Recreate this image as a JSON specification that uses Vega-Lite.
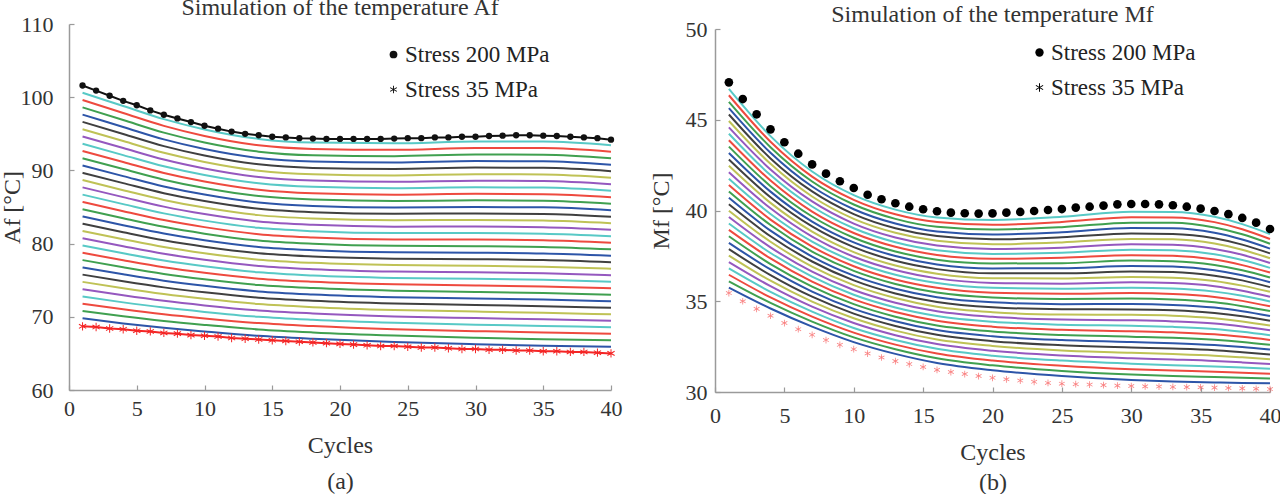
{
"$schema":"https://vega.github.io/schema/vega-lite/v6.json",
"background":"white",
"padding":{"left":0,"top":-4,"right":0,"bottom":0},
"spacing":27,
"resolve":{"scale":{"shape":"independent"},"legend":{"shape":"independent"}},
"datasets":{
"la":[
{"i":0,"x":1,"y":100.6},{"i":0,"x":4,"y":98.8},{"i":0,"x":7,"y":97.0},{"i":0,"x":10,"y":95.6},{"i":0,"x":14,"y":94.3},{"i":0,"x":18,"y":93.8},{"i":0,"x":24,"y":93.7},{"i":0,"x":30,"y":93.95},{"i":0,"x":35,"y":93.95},{"i":0,"x":40,"y":93.45},
{"i":1,"x":1,"y":99.61},{"i":1,"x":4,"y":97.84},{"i":1,"x":7,"y":96.08},{"i":1,"x":10,"y":94.71},{"i":1,"x":14,"y":93.43},{"i":1,"x":18,"y":92.94},{"i":1,"x":24,"y":92.82},{"i":1,"x":30,"y":93.06},{"i":1,"x":35,"y":93.05},{"i":1,"x":40,"y":92.56},
{"i":2,"x":1,"y":98.61},{"i":2,"x":4,"y":96.88},{"i":2,"x":7,"y":95.16},{"i":2,"x":10,"y":93.82},{"i":2,"x":14,"y":92.56},{"i":2,"x":18,"y":92.07},{"i":2,"x":24,"y":91.95},{"i":2,"x":30,"y":92.16},{"i":2,"x":35,"y":92.15},{"i":2,"x":40,"y":91.67},
{"i":3,"x":1,"y":97.62},{"i":3,"x":4,"y":95.93},{"i":3,"x":7,"y":94.24},{"i":3,"x":10,"y":92.93},{"i":3,"x":14,"y":91.7},{"i":3,"x":18,"y":91.21},{"i":3,"x":24,"y":91.07},{"i":3,"x":30,"y":91.27},{"i":3,"x":35,"y":91.25},{"i":3,"x":40,"y":90.78},
{"i":4,"x":1,"y":96.63},{"i":4,"x":4,"y":94.97},{"i":4,"x":7,"y":93.32},{"i":4,"x":10,"y":92.04},{"i":4,"x":14,"y":90.83},{"i":4,"x":18,"y":90.34},{"i":4,"x":24,"y":90.2},{"i":4,"x":30,"y":90.38},{"i":4,"x":35,"y":90.35},{"i":4,"x":40,"y":89.9},
{"i":5,"x":1,"y":95.63},{"i":5,"x":4,"y":94.01},{"i":5,"x":7,"y":92.4},{"i":5,"x":10,"y":91.15},{"i":5,"x":14,"y":89.96},{"i":5,"x":18,"y":89.48},{"i":5,"x":24,"y":89.32},{"i":5,"x":30,"y":89.48},{"i":5,"x":35,"y":89.45},{"i":5,"x":40,"y":89.01},
{"i":6,"x":1,"y":94.64},{"i":6,"x":4,"y":93.05},{"i":6,"x":7,"y":91.48},{"i":6,"x":10,"y":90.26},{"i":6,"x":14,"y":89.09},{"i":6,"x":18,"y":88.61},{"i":6,"x":24,"y":88.45},{"i":6,"x":30,"y":88.59},{"i":6,"x":35,"y":88.55},{"i":6,"x":40,"y":88.12},
{"i":7,"x":1,"y":93.65},{"i":7,"x":4,"y":92.09},{"i":7,"x":7,"y":90.56},{"i":7,"x":10,"y":89.37},{"i":7,"x":14,"y":88.23},{"i":7,"x":18,"y":87.75},{"i":7,"x":24,"y":87.57},{"i":7,"x":30,"y":87.7},{"i":7,"x":35,"y":87.65},{"i":7,"x":40,"y":87.23},
{"i":8,"x":1,"y":92.65},{"i":8,"x":4,"y":91.14},{"i":8,"x":7,"y":89.65},{"i":8,"x":10,"y":88.48},{"i":8,"x":14,"y":87.36},{"i":8,"x":18,"y":86.88},{"i":8,"x":24,"y":86.69},{"i":8,"x":30,"y":86.8},{"i":8,"x":35,"y":86.75},{"i":8,"x":40,"y":86.34},
{"i":9,"x":1,"y":91.66},{"i":9,"x":4,"y":90.18},{"i":9,"x":7,"y":88.73},{"i":9,"x":10,"y":87.59},{"i":9,"x":14,"y":86.49},{"i":9,"x":18,"y":86.02},{"i":9,"x":24,"y":85.82},{"i":9,"x":30,"y":85.91},{"i":9,"x":35,"y":85.85},{"i":9,"x":40,"y":85.45},
{"i":10,"x":1,"y":90.66},{"i":10,"x":4,"y":89.22},{"i":10,"x":7,"y":87.81},{"i":10,"x":10,"y":86.7},{"i":10,"x":14,"y":85.62},{"i":10,"x":18,"y":85.15},{"i":10,"x":24,"y":84.94},{"i":10,"x":30,"y":85.01},{"i":10,"x":35,"y":84.95},{"i":10,"x":40,"y":84.56},
{"i":11,"x":1,"y":89.67},{"i":11,"x":4,"y":88.26},{"i":11,"x":7,"y":86.89},{"i":11,"x":10,"y":85.81},{"i":11,"x":14,"y":84.75},{"i":11,"x":18,"y":84.29},{"i":11,"x":24,"y":84.07},{"i":11,"x":30,"y":84.12},{"i":11,"x":35,"y":84.05},{"i":11,"x":40,"y":83.67},
{"i":12,"x":1,"y":88.68},{"i":12,"x":4,"y":87.3},{"i":12,"x":7,"y":85.97},{"i":12,"x":10,"y":84.92},{"i":12,"x":14,"y":83.89},{"i":12,"x":18,"y":83.43},{"i":12,"x":24,"y":83.19},{"i":12,"x":30,"y":83.23},{"i":12,"x":35,"y":83.15},{"i":12,"x":40,"y":82.79},
{"i":13,"x":1,"y":87.68},{"i":13,"x":4,"y":86.35},{"i":13,"x":7,"y":85.05},{"i":13,"x":10,"y":84.03},{"i":13,"x":14,"y":83.02},{"i":13,"x":18,"y":82.56},{"i":13,"x":24,"y":82.31},{"i":13,"x":30,"y":82.33},{"i":13,"x":35,"y":82.25},{"i":13,"x":40,"y":81.9},
{"i":14,"x":1,"y":86.69},{"i":14,"x":4,"y":85.39},{"i":14,"x":7,"y":84.13},{"i":14,"x":10,"y":83.14},{"i":14,"x":14,"y":82.15},{"i":14,"x":18,"y":81.7},{"i":14,"x":24,"y":81.44},{"i":14,"x":30,"y":81.44},{"i":14,"x":35,"y":81.35},{"i":14,"x":40,"y":81.01},
{"i":15,"x":1,"y":85.7},{"i":15,"x":4,"y":84.43},{"i":15,"x":7,"y":83.21},{"i":15,"x":10,"y":82.25},{"i":15,"x":14,"y":81.28},{"i":15,"x":18,"y":80.83},{"i":15,"x":24,"y":80.56},{"i":15,"x":30,"y":80.55},{"i":15,"x":35,"y":80.45},{"i":15,"x":40,"y":80.12},
{"i":16,"x":1,"y":84.7},{"i":16,"x":4,"y":83.47},{"i":16,"x":7,"y":82.29},{"i":16,"x":10,"y":81.36},{"i":16,"x":14,"y":80.42},{"i":16,"x":18,"y":79.97},{"i":16,"x":24,"y":79.69},{"i":16,"x":30,"y":79.65},{"i":16,"x":35,"y":79.55},{"i":16,"x":40,"y":79.23},
{"i":17,"x":1,"y":83.71},{"i":17,"x":4,"y":82.51},{"i":17,"x":7,"y":81.37},{"i":17,"x":10,"y":80.46},{"i":17,"x":14,"y":79.55},{"i":17,"x":18,"y":79.1},{"i":17,"x":24,"y":78.81},{"i":17,"x":30,"y":78.76},{"i":17,"x":35,"y":78.65},{"i":17,"x":40,"y":78.34},
{"i":18,"x":1,"y":82.72},{"i":18,"x":4,"y":81.55},{"i":18,"x":7,"y":80.45},{"i":18,"x":10,"y":79.57},{"i":18,"x":14,"y":78.68},{"i":18,"x":18,"y":78.24},{"i":18,"x":24,"y":77.94},{"i":18,"x":30,"y":77.87},{"i":18,"x":35,"y":77.75},{"i":18,"x":40,"y":77.45},
{"i":19,"x":1,"y":81.72},{"i":19,"x":4,"y":80.6},{"i":19,"x":7,"y":79.53},{"i":19,"x":10,"y":78.68},{"i":19,"x":14,"y":77.81},{"i":19,"x":18,"y":77.37},{"i":19,"x":24,"y":77.06},{"i":19,"x":30,"y":76.97},{"i":19,"x":35,"y":76.85},{"i":19,"x":40,"y":76.56},
{"i":20,"x":1,"y":80.73},{"i":20,"x":4,"y":79.64},{"i":20,"x":7,"y":78.61},{"i":20,"x":10,"y":77.79},{"i":20,"x":14,"y":76.95},{"i":20,"x":18,"y":76.51},{"i":20,"x":24,"y":76.18},{"i":20,"x":30,"y":76.08},{"i":20,"x":35,"y":75.95},{"i":20,"x":40,"y":75.68},
{"i":21,"x":1,"y":79.74},{"i":21,"x":4,"y":78.68},{"i":21,"x":7,"y":77.69},{"i":21,"x":10,"y":76.9},{"i":21,"x":14,"y":76.08},{"i":21,"x":18,"y":75.64},{"i":21,"x":24,"y":75.31},{"i":21,"x":30,"y":75.19},{"i":21,"x":35,"y":75.05},{"i":21,"x":40,"y":74.79},
{"i":22,"x":1,"y":78.74},{"i":22,"x":4,"y":77.72},{"i":22,"x":7,"y":76.77},{"i":22,"x":10,"y":76.01},{"i":22,"x":14,"y":75.21},{"i":22,"x":18,"y":74.78},{"i":22,"x":24,"y":74.43},{"i":22,"x":30,"y":74.29},{"i":22,"x":35,"y":74.15},{"i":22,"x":40,"y":73.9},
{"i":23,"x":1,"y":77.75},{"i":23,"x":4,"y":76.76},{"i":23,"x":7,"y":75.85},{"i":23,"x":10,"y":75.12},{"i":23,"x":14,"y":74.34},{"i":23,"x":18,"y":73.92},{"i":23,"x":24,"y":73.56},{"i":23,"x":30,"y":73.4},{"i":23,"x":35,"y":73.25},{"i":23,"x":40,"y":73.01},
{"i":24,"x":1,"y":76.75},{"i":24,"x":4,"y":75.81},{"i":24,"x":7,"y":74.94},{"i":24,"x":10,"y":74.23},{"i":24,"x":14,"y":73.47},{"i":24,"x":18,"y":73.05},{"i":24,"x":24,"y":72.68},{"i":24,"x":30,"y":72.51},{"i":24,"x":35,"y":72.35},{"i":24,"x":40,"y":72.12},
{"i":25,"x":1,"y":75.76},{"i":25,"x":4,"y":74.85},{"i":25,"x":7,"y":74.02},{"i":25,"x":10,"y":73.34},{"i":25,"x":14,"y":72.61},{"i":25,"x":18,"y":72.19},{"i":25,"x":24,"y":71.81},{"i":25,"x":30,"y":71.61},{"i":25,"x":35,"y":71.45},{"i":25,"x":40,"y":71.23},
{"i":26,"x":1,"y":74.77},{"i":26,"x":4,"y":73.89},{"i":26,"x":7,"y":73.1},{"i":26,"x":10,"y":72.45},{"i":26,"x":14,"y":71.74},{"i":26,"x":18,"y":71.32},{"i":26,"x":24,"y":70.93},{"i":26,"x":30,"y":70.72},{"i":26,"x":35,"y":70.55},{"i":26,"x":40,"y":70.34},
{"i":27,"x":1,"y":73.77},{"i":27,"x":4,"y":72.93},{"i":27,"x":7,"y":72.18},{"i":27,"x":10,"y":71.56},{"i":27,"x":14,"y":70.87},{"i":27,"x":18,"y":70.46},{"i":27,"x":24,"y":70.05},{"i":27,"x":30,"y":69.82},{"i":27,"x":35,"y":69.65},{"i":27,"x":40,"y":69.46},
{"i":28,"x":1,"y":72.78},{"i":28,"x":4,"y":71.97},{"i":28,"x":7,"y":71.26},{"i":28,"x":10,"y":70.67},{"i":28,"x":14,"y":70.0},{"i":28,"x":18,"y":69.59},{"i":28,"x":24,"y":69.18},{"i":28,"x":30,"y":68.93},{"i":28,"x":35,"y":68.75},{"i":28,"x":40,"y":68.57},
{"i":29,"x":1,"y":71.79},{"i":29,"x":4,"y":71.02},{"i":29,"x":7,"y":70.34},{"i":29,"x":10,"y":69.78},{"i":29,"x":14,"y":69.14},{"i":29,"x":18,"y":68.73},{"i":29,"x":24,"y":68.3},{"i":29,"x":30,"y":68.04},{"i":29,"x":35,"y":67.85},{"i":29,"x":40,"y":67.68},
{"i":30,"x":1,"y":70.79},{"i":30,"x":4,"y":70.06},{"i":30,"x":7,"y":69.42},{"i":30,"x":10,"y":68.89},{"i":30,"x":14,"y":68.27},{"i":30,"x":18,"y":67.86},{"i":30,"x":24,"y":67.43},{"i":30,"x":30,"y":67.14},{"i":30,"x":35,"y":66.95},{"i":30,"x":40,"y":66.79},
{"i":31,"x":1,"y":69.8},{"i":31,"x":4,"y":69.1},{"i":31,"x":7,"y":68.5},{"i":31,"x":10,"y":68.0},{"i":31,"x":14,"y":67.4},{"i":31,"x":18,"y":67.0},{"i":31,"x":24,"y":66.55},{"i":31,"x":30,"y":66.25},{"i":31,"x":35,"y":66.05},{"i":31,"x":40,"y":65.9}
],
"ra":[
{"i":0,"x":1,"y":46.7},{"i":0,"x":4,"y":44.1},{"i":0,"x":7,"y":42.15},{"i":0,"x":10,"y":40.85},{"i":0,"x":13,"y":40.05},{"i":0,"x":16,"y":39.62},{"i":0,"x":20,"y":39.48},{"i":0,"x":25,"y":39.65},{"i":0,"x":30,"y":39.93},{"i":0,"x":33,"y":39.92},{"i":0,"x":36,"y":39.65},{"i":0,"x":38,"y":39.25},{"i":0,"x":40,"y":38.7},
{"i":1,"x":1,"y":46.35},{"i":1,"x":4,"y":43.79},{"i":1,"x":7,"y":41.87},{"i":1,"x":10,"y":40.59},{"i":1,"x":13,"y":39.79},{"i":1,"x":16,"y":39.36},{"i":1,"x":20,"y":39.21},{"i":1,"x":25,"y":39.37},{"i":1,"x":30,"y":39.63},{"i":1,"x":33,"y":39.62},{"i":1,"x":36,"y":39.36},{"i":1,"x":38,"y":38.97},{"i":1,"x":40,"y":38.43},
{"i":2,"x":1,"y":45.99},{"i":2,"x":4,"y":43.49},{"i":2,"x":7,"y":41.6},{"i":2,"x":10,"y":40.33},{"i":2,"x":13,"y":39.54},{"i":2,"x":16,"y":39.1},{"i":2,"x":20,"y":38.95},{"i":2,"x":25,"y":39.08},{"i":2,"x":30,"y":39.33},{"i":2,"x":33,"y":39.32},{"i":2,"x":36,"y":39.06},{"i":2,"x":38,"y":38.69},{"i":2,"x":40,"y":38.17},
{"i":3,"x":1,"y":45.64},{"i":3,"x":4,"y":43.18},{"i":3,"x":7,"y":41.32},{"i":3,"x":10,"y":40.07},{"i":3,"x":13,"y":39.28},{"i":3,"x":16,"y":38.84},{"i":3,"x":20,"y":38.68},{"i":3,"x":25,"y":38.8},{"i":3,"x":30,"y":39.03},{"i":3,"x":33,"y":39.02},{"i":3,"x":36,"y":38.77},{"i":3,"x":38,"y":38.4},{"i":3,"x":40,"y":37.9},
{"i":4,"x":1,"y":45.29},{"i":4,"x":4,"y":42.87},{"i":4,"x":7,"y":41.05},{"i":4,"x":10,"y":39.8},{"i":4,"x":13,"y":39.02},{"i":4,"x":16,"y":38.59},{"i":4,"x":20,"y":38.41},{"i":4,"x":25,"y":38.52},{"i":4,"x":30,"y":38.73},{"i":4,"x":33,"y":38.71},{"i":4,"x":36,"y":38.47},{"i":4,"x":38,"y":38.12},{"i":4,"x":40,"y":37.64},
{"i":5,"x":1,"y":44.93},{"i":5,"x":4,"y":42.57},{"i":5,"x":7,"y":40.77},{"i":5,"x":10,"y":39.54},{"i":5,"x":13,"y":38.77},{"i":5,"x":16,"y":38.33},{"i":5,"x":20,"y":38.14},{"i":5,"x":25,"y":38.24},{"i":5,"x":30,"y":38.43},{"i":5,"x":33,"y":38.41},{"i":5,"x":36,"y":38.18},{"i":5,"x":38,"y":37.84},{"i":5,"x":40,"y":37.37},
{"i":6,"x":1,"y":44.58},{"i":6,"x":4,"y":42.26},{"i":6,"x":7,"y":40.5},{"i":6,"x":10,"y":39.28},{"i":6,"x":13,"y":38.51},{"i":6,"x":16,"y":38.07},{"i":6,"x":20,"y":37.88},{"i":6,"x":25,"y":37.95},{"i":6,"x":30,"y":38.14},{"i":6,"x":33,"y":38.11},{"i":6,"x":36,"y":37.88},{"i":6,"x":38,"y":37.56},{"i":6,"x":40,"y":37.11},
{"i":7,"x":1,"y":44.23},{"i":7,"x":4,"y":41.95},{"i":7,"x":7,"y":40.22},{"i":7,"x":10,"y":39.02},{"i":7,"x":13,"y":38.25},{"i":7,"x":16,"y":37.81},{"i":7,"x":20,"y":37.61},{"i":7,"x":25,"y":37.67},{"i":7,"x":30,"y":37.84},{"i":7,"x":33,"y":37.81},{"i":7,"x":36,"y":37.59},{"i":7,"x":38,"y":37.27},{"i":7,"x":40,"y":36.84},
{"i":8,"x":1,"y":43.87},{"i":8,"x":4,"y":41.65},{"i":8,"x":7,"y":39.94},{"i":8,"x":10,"y":38.76},{"i":8,"x":13,"y":38.0},{"i":8,"x":16,"y":37.55},{"i":8,"x":20,"y":37.34},{"i":8,"x":25,"y":37.39},{"i":8,"x":30,"y":37.54},{"i":8,"x":33,"y":37.51},{"i":8,"x":36,"y":37.3},{"i":8,"x":38,"y":36.99},{"i":8,"x":40,"y":36.58},
{"i":9,"x":1,"y":43.52},{"i":9,"x":4,"y":41.34},{"i":9,"x":7,"y":39.67},{"i":9,"x":10,"y":38.5},{"i":9,"x":13,"y":37.74},{"i":9,"x":16,"y":37.29},{"i":9,"x":20,"y":37.08},{"i":9,"x":25,"y":37.1},{"i":9,"x":30,"y":37.24},{"i":9,"x":33,"y":37.21},{"i":9,"x":36,"y":37.0},{"i":9,"x":38,"y":36.71},{"i":9,"x":40,"y":36.31},
{"i":10,"x":1,"y":43.17},{"i":10,"x":4,"y":41.04},{"i":10,"x":7,"y":39.39},{"i":10,"x":10,"y":38.24},{"i":10,"x":13,"y":37.49},{"i":10,"x":16,"y":37.03},{"i":10,"x":20,"y":36.81},{"i":10,"x":25,"y":36.82},{"i":10,"x":30,"y":36.94},{"i":10,"x":33,"y":36.91},{"i":10,"x":36,"y":36.71},{"i":10,"x":38,"y":36.43},{"i":10,"x":40,"y":36.05},
{"i":11,"x":1,"y":42.81},{"i":11,"x":4,"y":40.73},{"i":11,"x":7,"y":39.12},{"i":11,"x":10,"y":37.98},{"i":11,"x":13,"y":37.23},{"i":11,"x":16,"y":36.77},{"i":11,"x":20,"y":36.54},{"i":11,"x":25,"y":36.54},{"i":11,"x":30,"y":36.64},{"i":11,"x":33,"y":36.61},{"i":11,"x":36,"y":36.41},{"i":11,"x":38,"y":36.15},{"i":11,"x":40,"y":35.78},
{"i":12,"x":1,"y":42.46},{"i":12,"x":4,"y":40.42},{"i":12,"x":7,"y":38.84},{"i":12,"x":10,"y":37.71},{"i":12,"x":13,"y":36.97},{"i":12,"x":16,"y":36.52},{"i":12,"x":20,"y":36.27},{"i":12,"x":25,"y":36.25},{"i":12,"x":30,"y":36.34},{"i":12,"x":33,"y":36.3},{"i":12,"x":36,"y":36.12},{"i":12,"x":38,"y":35.86},{"i":12,"x":40,"y":35.52},
{"i":13,"x":1,"y":42.11},{"i":13,"x":4,"y":40.12},{"i":13,"x":7,"y":38.56},{"i":13,"x":10,"y":37.45},{"i":13,"x":13,"y":36.72},{"i":13,"x":16,"y":36.26},{"i":13,"x":20,"y":36.01},{"i":13,"x":25,"y":35.97},{"i":13,"x":30,"y":36.04},{"i":13,"x":33,"y":36.0},{"i":13,"x":36,"y":35.83},{"i":13,"x":38,"y":35.58},{"i":13,"x":40,"y":35.25},
{"i":14,"x":1,"y":41.75},{"i":14,"x":4,"y":39.81},{"i":14,"x":7,"y":38.29},{"i":14,"x":10,"y":37.19},{"i":14,"x":13,"y":36.46},{"i":14,"x":16,"y":36.0},{"i":14,"x":20,"y":35.74},{"i":14,"x":25,"y":35.69},{"i":14,"x":30,"y":35.74},{"i":14,"x":33,"y":35.7},{"i":14,"x":36,"y":35.53},{"i":14,"x":38,"y":35.3},{"i":14,"x":40,"y":34.99},
{"i":15,"x":1,"y":41.4},{"i":15,"x":4,"y":39.5},{"i":15,"x":7,"y":38.01},{"i":15,"x":10,"y":36.93},{"i":15,"x":13,"y":36.2},{"i":15,"x":16,"y":35.74},{"i":15,"x":20,"y":35.47},{"i":15,"x":25,"y":35.41},{"i":15,"x":30,"y":35.45},{"i":15,"x":33,"y":35.4},{"i":15,"x":36,"y":35.24},{"i":15,"x":38,"y":35.02},{"i":15,"x":40,"y":34.72},
{"i":16,"x":1,"y":41.05},{"i":16,"x":4,"y":39.2},{"i":16,"x":7,"y":37.74},{"i":16,"x":10,"y":36.67},{"i":16,"x":13,"y":35.95},{"i":16,"x":16,"y":35.48},{"i":16,"x":20,"y":35.21},{"i":16,"x":25,"y":35.12},{"i":16,"x":30,"y":35.15},{"i":16,"x":33,"y":35.1},{"i":16,"x":36,"y":34.94},{"i":16,"x":38,"y":34.73},{"i":16,"x":40,"y":34.46},
{"i":17,"x":1,"y":40.7},{"i":17,"x":4,"y":38.89},{"i":17,"x":7,"y":37.46},{"i":17,"x":10,"y":36.41},{"i":17,"x":13,"y":35.69},{"i":17,"x":16,"y":35.22},{"i":17,"x":20,"y":34.94},{"i":17,"x":25,"y":34.84},{"i":17,"x":30,"y":34.85},{"i":17,"x":33,"y":34.8},{"i":17,"x":36,"y":34.65},{"i":17,"x":38,"y":34.45},{"i":17,"x":40,"y":34.19},
{"i":18,"x":1,"y":40.34},{"i":18,"x":4,"y":38.58},{"i":18,"x":7,"y":37.19},{"i":18,"x":10,"y":36.15},{"i":18,"x":13,"y":35.43},{"i":18,"x":16,"y":34.96},{"i":18,"x":20,"y":34.67},{"i":18,"x":25,"y":34.56},{"i":18,"x":30,"y":34.55},{"i":18,"x":33,"y":34.5},{"i":18,"x":36,"y":34.35},{"i":18,"x":38,"y":34.17},{"i":18,"x":40,"y":33.93},
{"i":19,"x":1,"y":39.99},{"i":19,"x":4,"y":38.28},{"i":19,"x":7,"y":36.91},{"i":19,"x":10,"y":35.89},{"i":19,"x":13,"y":35.18},{"i":19,"x":16,"y":34.7},{"i":19,"x":20,"y":34.4},{"i":19,"x":25,"y":34.27},{"i":19,"x":30,"y":34.25},{"i":19,"x":33,"y":34.2},{"i":19,"x":36,"y":34.06},{"i":19,"x":38,"y":33.89},{"i":19,"x":40,"y":33.66},
{"i":20,"x":1,"y":39.64},{"i":20,"x":4,"y":37.97},{"i":20,"x":7,"y":36.63},{"i":20,"x":10,"y":35.62},{"i":20,"x":13,"y":34.92},{"i":20,"x":16,"y":34.45},{"i":20,"x":20,"y":34.14},{"i":20,"x":25,"y":33.99},{"i":20,"x":30,"y":33.95},{"i":20,"x":33,"y":33.89},{"i":20,"x":36,"y":33.77},{"i":20,"x":38,"y":33.61},{"i":20,"x":40,"y":33.4},
{"i":21,"x":1,"y":39.28},{"i":21,"x":4,"y":37.66},{"i":21,"x":7,"y":36.36},{"i":21,"x":10,"y":35.36},{"i":21,"x":13,"y":34.66},{"i":21,"x":16,"y":34.19},{"i":21,"x":20,"y":33.87},{"i":21,"x":25,"y":33.71},{"i":21,"x":30,"y":33.65},{"i":21,"x":33,"y":33.59},{"i":21,"x":36,"y":33.47},{"i":21,"x":38,"y":33.32},{"i":21,"x":40,"y":33.13},
{"i":22,"x":1,"y":38.93},{"i":22,"x":4,"y":37.36},{"i":22,"x":7,"y":36.08},{"i":22,"x":10,"y":35.1},{"i":22,"x":13,"y":34.41},{"i":22,"x":16,"y":33.93},{"i":22,"x":20,"y":33.6},{"i":22,"x":25,"y":33.43},{"i":22,"x":30,"y":33.35},{"i":22,"x":33,"y":33.29},{"i":22,"x":36,"y":33.18},{"i":22,"x":38,"y":33.04},{"i":22,"x":40,"y":32.87},
{"i":23,"x":1,"y":38.58},{"i":23,"x":4,"y":37.05},{"i":23,"x":7,"y":35.81},{"i":23,"x":10,"y":34.84},{"i":23,"x":13,"y":34.15},{"i":23,"x":16,"y":33.67},{"i":23,"x":20,"y":33.34},{"i":23,"x":25,"y":33.14},{"i":23,"x":30,"y":33.05},{"i":23,"x":33,"y":32.99},{"i":23,"x":36,"y":32.88},{"i":23,"x":38,"y":32.76},{"i":23,"x":40,"y":32.6},
{"i":24,"x":1,"y":38.22},{"i":24,"x":4,"y":36.75},{"i":24,"x":7,"y":35.53},{"i":24,"x":10,"y":34.58},{"i":24,"x":13,"y":33.9},{"i":24,"x":16,"y":33.41},{"i":24,"x":20,"y":33.07},{"i":24,"x":25,"y":32.86},{"i":24,"x":30,"y":32.75},{"i":24,"x":33,"y":32.69},{"i":24,"x":36,"y":32.59},{"i":24,"x":38,"y":32.48},{"i":24,"x":40,"y":32.34},
{"i":25,"x":1,"y":37.87},{"i":25,"x":4,"y":36.44},{"i":25,"x":7,"y":35.25},{"i":25,"x":10,"y":34.32},{"i":25,"x":13,"y":33.64},{"i":25,"x":16,"y":33.15},{"i":25,"x":20,"y":32.8},{"i":25,"x":25,"y":32.58},{"i":25,"x":30,"y":32.45},{"i":25,"x":33,"y":32.39},{"i":25,"x":36,"y":32.3},{"i":25,"x":38,"y":32.19},{"i":25,"x":40,"y":32.07},
{"i":26,"x":1,"y":37.52},{"i":26,"x":4,"y":36.13},{"i":26,"x":7,"y":34.98},{"i":26,"x":10,"y":34.06},{"i":26,"x":13,"y":33.38},{"i":26,"x":16,"y":32.89},{"i":26,"x":20,"y":32.54},{"i":26,"x":25,"y":32.29},{"i":26,"x":30,"y":32.16},{"i":26,"x":33,"y":32.09},{"i":26,"x":36,"y":32.0},{"i":26,"x":38,"y":31.91},{"i":26,"x":40,"y":31.81},
{"i":27,"x":1,"y":37.16},{"i":27,"x":4,"y":35.83},{"i":27,"x":7,"y":34.7},{"i":27,"x":10,"y":33.8},{"i":27,"x":13,"y":33.13},{"i":27,"x":16,"y":32.64},{"i":27,"x":20,"y":32.27},{"i":27,"x":25,"y":32.01},{"i":27,"x":30,"y":31.86},{"i":27,"x":33,"y":31.79},{"i":27,"x":36,"y":31.71},{"i":27,"x":38,"y":31.63},{"i":27,"x":40,"y":31.54},
{"i":28,"x":1,"y":36.81},{"i":28,"x":4,"y":35.52},{"i":28,"x":7,"y":34.43},{"i":28,"x":10,"y":33.53},{"i":28,"x":13,"y":32.87},{"i":28,"x":16,"y":32.38},{"i":28,"x":20,"y":32.0},{"i":28,"x":25,"y":31.73},{"i":28,"x":30,"y":31.56},{"i":28,"x":33,"y":31.48},{"i":28,"x":36,"y":31.41},{"i":28,"x":38,"y":31.35},{"i":28,"x":40,"y":31.28},
{"i":29,"x":1,"y":36.46},{"i":29,"x":4,"y":35.21},{"i":29,"x":7,"y":34.15},{"i":29,"x":10,"y":33.27},{"i":29,"x":13,"y":32.61},{"i":29,"x":16,"y":32.12},{"i":29,"x":20,"y":31.73},{"i":29,"x":25,"y":31.45},{"i":29,"x":30,"y":31.26},{"i":29,"x":33,"y":31.18},{"i":29,"x":36,"y":31.12},{"i":29,"x":38,"y":31.06},{"i":29,"x":40,"y":31.01},
{"i":30,"x":1,"y":36.1},{"i":30,"x":4,"y":34.91},{"i":30,"x":7,"y":33.88},{"i":30,"x":10,"y":33.01},{"i":30,"x":13,"y":32.36},{"i":30,"x":16,"y":31.86},{"i":30,"x":20,"y":31.47},{"i":30,"x":25,"y":31.16},{"i":30,"x":30,"y":30.96},{"i":30,"x":33,"y":30.88},{"i":30,"x":36,"y":30.82},{"i":30,"x":38,"y":30.78},{"i":30,"x":40,"y":30.75},
{"i":31,"x":1,"y":35.75},{"i":31,"x":4,"y":34.6},{"i":31,"x":7,"y":33.6},{"i":31,"x":10,"y":32.75},{"i":31,"x":13,"y":32.1},{"i":31,"x":16,"y":31.6},{"i":31,"x":20,"y":31.2},{"i":31,"x":25,"y":30.88},{"i":31,"x":30,"y":30.66},{"i":31,"x":33,"y":30.58},{"i":31,"x":36,"y":30.53},{"i":31,"x":38,"y":30.5},{"i":31,"x":40,"y":30.48}
],
"lm":[
{"s":"Stress 200 MPa","x":1,"y":101.6},{"s":"Stress 200 MPa","x":2,"y":100.9},{"s":"Stress 200 MPa","x":3,"y":100.2},{"s":"Stress 200 MPa","x":4,"y":99.5},{"s":"Stress 200 MPa","x":5,"y":98.9},{"s":"Stress 200 MPa","x":6,"y":98.2},{"s":"Stress 200 MPa","x":7,"y":97.6},{"s":"Stress 200 MPa","x":8,"y":97.1},{"s":"Stress 200 MPa","x":9,"y":96.6},{"s":"Stress 200 MPa","x":10,"y":96.1},
{"s":"Stress 200 MPa","x":11,"y":95.7},{"s":"Stress 200 MPa","x":12,"y":95.3},{"s":"Stress 200 MPa","x":13,"y":95.0},{"s":"Stress 200 MPa","x":14,"y":94.8},{"s":"Stress 200 MPa","x":15,"y":94.6},{"s":"Stress 200 MPa","x":16,"y":94.5},{"s":"Stress 200 MPa","x":17,"y":94.4},{"s":"Stress 200 MPa","x":18,"y":94.35},{"s":"Stress 200 MPa","x":19,"y":94.3},{"s":"Stress 200 MPa","x":20,"y":94.3},
{"s":"Stress 200 MPa","x":21,"y":94.3},{"s":"Stress 200 MPa","x":22,"y":94.3},{"s":"Stress 200 MPa","x":23,"y":94.3},{"s":"Stress 200 MPa","x":24,"y":94.35},{"s":"Stress 200 MPa","x":25,"y":94.4},{"s":"Stress 200 MPa","x":26,"y":94.4},{"s":"Stress 200 MPa","x":27,"y":94.5},{"s":"Stress 200 MPa","x":28,"y":94.5},{"s":"Stress 200 MPa","x":29,"y":94.6},{"s":"Stress 200 MPa","x":30,"y":94.6},
{"s":"Stress 200 MPa","x":31,"y":94.7},{"s":"Stress 200 MPa","x":32,"y":94.75},{"s":"Stress 200 MPa","x":33,"y":94.8},{"s":"Stress 200 MPa","x":34,"y":94.8},{"s":"Stress 200 MPa","x":35,"y":94.75},{"s":"Stress 200 MPa","x":36,"y":94.7},{"s":"Stress 200 MPa","x":37,"y":94.6},{"s":"Stress 200 MPa","x":38,"y":94.5},{"s":"Stress 200 MPa","x":39,"y":94.4},{"s":"Stress 200 MPa","x":40,"y":94.2},
{"s":"Stress 35 MPa","x":1,"y":68.7},{"s":"Stress 35 MPa","x":2,"y":68.6},{"s":"Stress 35 MPa","x":3,"y":68.4},{"s":"Stress 35 MPa","x":4,"y":68.3},{"s":"Stress 35 MPa","x":5,"y":68.1},{"s":"Stress 35 MPa","x":6,"y":68.0},{"s":"Stress 35 MPa","x":7,"y":67.8},{"s":"Stress 35 MPa","x":8,"y":67.7},{"s":"Stress 35 MPa","x":9,"y":67.5},{"s":"Stress 35 MPa","x":10,"y":67.4},
{"s":"Stress 35 MPa","x":11,"y":67.3},{"s":"Stress 35 MPa","x":12,"y":67.1},{"s":"Stress 35 MPa","x":13,"y":67.0},{"s":"Stress 35 MPa","x":14,"y":66.9},{"s":"Stress 35 MPa","x":15,"y":66.8},{"s":"Stress 35 MPa","x":16,"y":66.7},{"s":"Stress 35 MPa","x":17,"y":66.6},{"s":"Stress 35 MPa","x":18,"y":66.5},{"s":"Stress 35 MPa","x":19,"y":66.4},{"s":"Stress 35 MPa","x":20,"y":66.3},
{"s":"Stress 35 MPa","x":21,"y":66.2},{"s":"Stress 35 MPa","x":22,"y":66.1},{"s":"Stress 35 MPa","x":23,"y":66.0},{"s":"Stress 35 MPa","x":24,"y":66.0},{"s":"Stress 35 MPa","x":25,"y":65.9},{"s":"Stress 35 MPa","x":26,"y":65.8},{"s":"Stress 35 MPa","x":27,"y":65.8},{"s":"Stress 35 MPa","x":28,"y":65.7},{"s":"Stress 35 MPa","x":29,"y":65.6},{"s":"Stress 35 MPa","x":30,"y":65.6},
{"s":"Stress 35 MPa","x":31,"y":65.5},{"s":"Stress 35 MPa","x":32,"y":65.5},{"s":"Stress 35 MPa","x":33,"y":65.4},{"s":"Stress 35 MPa","x":34,"y":65.4},{"s":"Stress 35 MPa","x":35,"y":65.3},{"s":"Stress 35 MPa","x":36,"y":65.3},{"s":"Stress 35 MPa","x":37,"y":65.2},{"s":"Stress 35 MPa","x":38,"y":65.2},{"s":"Stress 35 MPa","x":39,"y":65.1},{"s":"Stress 35 MPa","x":40,"y":65.0}
],
"rm":[
{"s":"Stress 200 MPa","x":1,"y":47.06},{"s":"Stress 200 MPa","x":2,"y":46.14},{"s":"Stress 200 MPa","x":3,"y":45.3},{"s":"Stress 200 MPa","x":4,"y":44.47},{"s":"Stress 200 MPa","x":5,"y":43.76},{"s":"Stress 200 MPa","x":6,"y":43.13},{"s":"Stress 200 MPa","x":7,"y":42.54},{"s":"Stress 200 MPa","x":8,"y":42.03},{"s":"Stress 200 MPa","x":9,"y":41.61},{"s":"Stress 200 MPa","x":10,"y":41.24},
{"s":"Stress 200 MPa","x":11,"y":40.87},{"s":"Stress 200 MPa","x":12,"y":40.62},{"s":"Stress 200 MPa","x":13,"y":40.4},{"s":"Stress 200 MPa","x":14,"y":40.21},{"s":"Stress 200 MPa","x":15,"y":40.07},{"s":"Stress 200 MPa","x":16,"y":39.96},{"s":"Stress 200 MPa","x":17,"y":39.88},{"s":"Stress 200 MPa","x":18,"y":39.85},{"s":"Stress 200 MPa","x":19,"y":39.83},{"s":"Stress 200 MPa","x":20,"y":39.84},
{"s":"Stress 200 MPa","x":21,"y":39.88},{"s":"Stress 200 MPa","x":22,"y":39.92},{"s":"Stress 200 MPa","x":23,"y":39.97},{"s":"Stress 200 MPa","x":24,"y":40.03},{"s":"Stress 200 MPa","x":25,"y":40.08},{"s":"Stress 200 MPa","x":26,"y":40.16},{"s":"Stress 200 MPa","x":27,"y":40.21},{"s":"Stress 200 MPa","x":28,"y":40.27},{"s":"Stress 200 MPa","x":29,"y":40.34},{"s":"Stress 200 MPa","x":30,"y":40.36},
{"s":"Stress 200 MPa","x":31,"y":40.36},{"s":"Stress 200 MPa","x":32,"y":40.34},{"s":"Stress 200 MPa","x":33,"y":40.29},{"s":"Stress 200 MPa","x":34,"y":40.21},{"s":"Stress 200 MPa","x":35,"y":40.1},{"s":"Stress 200 MPa","x":36,"y":39.97},{"s":"Stress 200 MPa","x":37,"y":39.8},{"s":"Stress 200 MPa","x":38,"y":39.59},{"s":"Stress 200 MPa","x":39,"y":39.33},{"s":"Stress 200 MPa","x":40,"y":38.98},
{"s":"Stress 35 MPa","x":1,"y":35.45},{"s":"Stress 35 MPa","x":2,"y":35.0},{"s":"Stress 35 MPa","x":3,"y":34.58},{"s":"Stress 35 MPa","x":4,"y":34.2},{"s":"Stress 35 MPa","x":5,"y":33.8},{"s":"Stress 35 MPa","x":6,"y":33.46},{"s":"Stress 35 MPa","x":7,"y":33.15},{"s":"Stress 35 MPa","x":8,"y":32.86},{"s":"Stress 35 MPa","x":9,"y":32.6},{"s":"Stress 35 MPa","x":10,"y":32.36},
{"s":"Stress 35 MPa","x":11,"y":32.12},{"s":"Stress 35 MPa","x":12,"y":31.9},{"s":"Stress 35 MPa","x":13,"y":31.7},{"s":"Stress 35 MPa","x":14,"y":31.54},{"s":"Stress 35 MPa","x":15,"y":31.38},{"s":"Stress 35 MPa","x":16,"y":31.22},{"s":"Stress 35 MPa","x":17,"y":31.1},{"s":"Stress 35 MPa","x":18,"y":30.99},{"s":"Stress 35 MPa","x":19,"y":30.88},{"s":"Stress 35 MPa","x":20,"y":30.78},
{"s":"Stress 35 MPa","x":21,"y":30.7},{"s":"Stress 35 MPa","x":22,"y":30.63},{"s":"Stress 35 MPa","x":23,"y":30.56},{"s":"Stress 35 MPa","x":24,"y":30.5},{"s":"Stress 35 MPa","x":25,"y":30.46},{"s":"Stress 35 MPa","x":26,"y":30.43},{"s":"Stress 35 MPa","x":27,"y":30.41},{"s":"Stress 35 MPa","x":28,"y":30.38},{"s":"Stress 35 MPa","x":29,"y":30.35},{"s":"Stress 35 MPa","x":30,"y":30.33},
{"s":"Stress 35 MPa","x":31,"y":30.31},{"s":"Stress 35 MPa","x":32,"y":30.3},{"s":"Stress 35 MPa","x":33,"y":30.28},{"s":"Stress 35 MPa","x":34,"y":30.27},{"s":"Stress 35 MPa","x":35,"y":30.26},{"s":"Stress 35 MPa","x":36,"y":30.24},{"s":"Stress 35 MPa","x":37,"y":30.22},{"s":"Stress 35 MPa","x":38,"y":30.2},{"s":"Stress 35 MPa","x":39,"y":30.18},{"s":"Stress 35 MPa","x":40,"y":30.16}
]
},
"hconcat":[
{
"width":542,"height":366,
"title":{"text":"Simulation of the temperature Af","frame":"group","baseline":"alphabetic","offset":-26},
"encoding":{
"x":{"field":"x","type":"quantitative","scale":{"domain":[0,40],"nice":false,"zero":false},"axis":{"values":[0,5,10,15,20,25,30,35,40],"labelPadding":13,"title":["Cycles","(a)"],"titlePadding":14,"titleLineHeight":36}},
"y":{"field":"y","type":"quantitative","scale":{"domain":[60,110],"nice":false,"zero":false},"axis":{"values":[60,70,80,90,100,110],"labelPadding":21,"title":"Af [°C]","titlePadding":-4}}
},
"layer":[
{"data":{"name":"la"},"mark":{"type":"line","strokeWidth":2,"interpolate":"monotone"},
 "encoding":{"color":{"field":"i","type":"ordinal","legend":null,"scale":{"domain":[0,1,2,3,4,5,6,7,8,9,10,11,12,13,14,15,16,17,18,19,20,21,22,23,24,25,26,27,28,29,30,31],"range":["#58C9C6","#EE4A3F","#40A050","#2D55A8","#404040","#BFC256","#9558BF","#58C9C6","#EE4A3F","#40A050","#2D55A8","#404040","#BFC256","#9558BF","#58C9C6","#EE4A3F","#40A050","#2D55A8","#404040","#BFC256","#9558BF","#58C9C6","#EE4A3F","#40A050","#2D55A8","#404040","#BFC256","#9558BF","#58C9C6","#EE4A3F","#40A050","#2D55A8"]}}}},
{"data":{"name":"lm"},"transform":[{"filter":{"field":"s","equal":"Stress 200 MPa"}}],"mark":{"type":"line","color":"#111111","strokeWidth":2},"encoding":{}},
{"data":{"name":"lm"},"transform":[{"filter":{"field":"s","equal":"Stress 35 MPa"}}],"mark":{"type":"line","color":"#F42525","strokeWidth":2},"encoding":{}},
{"data":{"name":"lm"},"transform":[{"filter":{"field":"s","equal":"Stress 200 MPa"}}],"mark":{"type":"point","filled":true,"opacity":1,"color":"#111111","size":40},
 "encoding":{"shape":{"field":"s","type":"nominal","scale":{"domain":["Stress 200 MPa","Stress 35 MPa"],"range":["circle","M-0.12,-1L0.12,-1L0.12,1L-0.12,1ZM-0.926,-0.396L-0.806,-0.604L0.926,0.396L0.806,0.604ZM0.806,-0.604L0.926,-0.396L-0.806,0.604L-0.926,0.396Z"]},
   "legend":{"orient":"none","legendX":313,"legendY":19,"title":null,"symbolFillColor":"#111111","symbolStrokeColor":"#111111","symbolSize":60,"rowPadding":11,"labelOffset":0,"padding":0,"labelFont":"Liberation Serif","encode":{"labels":{"update":{"font":{"value":"Liberation Serif"}}}}}}}},
{"data":{"name":"lm"},"transform":[{"filter":{"field":"s","equal":"Stress 35 MPa"}}],"mark":{"type":"point","filled":true,"opacity":1,"color":"#F42525","size":70},
 "encoding":{"shape":{"field":"s","type":"nominal","scale":{"domain":["Stress 200 MPa","Stress 35 MPa"],"range":["circle","M-0.12,-1L0.12,-1L0.12,1L-0.12,1ZM-0.926,-0.396L-0.806,-0.604L0.926,0.396L0.806,0.604ZM0.806,-0.604L0.926,-0.396L-0.806,0.604L-0.926,0.396Z"]},
   "legend":{"orient":"none","legendX":313,"legendY":19,"title":null,"symbolFillColor":"#111111","symbolStrokeColor":"#111111","symbolSize":60,"rowPadding":11,"labelOffset":0,"padding":0,"labelFont":"Liberation Serif","encode":{"labels":{"update":{"font":{"value":"Liberation Serif"}}}}}}}}
],
"resolve":{"scale":{"color":"independent"}}
},
{
"width":555,"height":368,
"title":{"text":"Simulation of the temperature Mf","frame":"group","baseline":"alphabetic","offset":-28},
"encoding":{
"x":{"field":"x","type":"quantitative","scale":{"domain":[0,40],"nice":false,"zero":false},"axis":{"values":[0,5,10,15,20,25,30,35,40],"labelPadding":18,"title":["Cycles","(b)"],"titlePadding":14,"titleLineHeight":30}},
"y":{"field":"y","type":"quantitative","scale":{"domain":[30,50],"nice":false,"zero":false,"range":[368,5]},"axis":{"values":[30,35,40,45,50],"labelPadding":13,"title":"Mf [°C]","titlePadding":12}}
},
"layer":[
{"data":{"name":"ra"},"mark":{"type":"line","strokeWidth":2,"interpolate":"monotone"},
 "encoding":{"color":{"field":"i","type":"ordinal","legend":null,"scale":{"domain":[0,1,2,3,4,5,6,7,8,9,10,11,12,13,14,15,16,17,18,19,20,21,22,23,24,25,26,27,28,29,30,31],"range":["#58C9C6","#EE4A3F","#40A050","#2D55A8","#404040","#BFC256","#9558BF","#58C9C6","#EE4A3F","#40A050","#2D55A8","#404040","#BFC256","#9558BF","#58C9C6","#EE4A3F","#40A050","#2D55A8","#404040","#BFC256","#9558BF","#58C9C6","#EE4A3F","#40A050","#2D55A8","#404040","#BFC256","#9558BF","#58C9C6","#EE4A3F","#40A050","#2D55A8"]}}}},
{"data":{"name":"rm"},"transform":[{"filter":{"field":"s","equal":"Stress 200 MPa"}}],"mark":{"type":"point","filled":true,"opacity":1,"color":"#000000","size":75},
 "encoding":{"shape":{"field":"s","type":"nominal","scale":{"domain":["Stress 200 MPa","Stress 35 MPa"],"range":["circle","M-0.12,-1L0.12,-1L0.12,1L-0.12,1ZM-0.926,-0.396L-0.806,-0.604L0.926,0.396L0.806,0.604ZM0.806,-0.604L0.926,-0.396L-0.806,0.604L-0.926,0.396Z"]},
   "legend":{"orient":"none","legendX":313,"legendY":17,"title":null,"symbolFillColor":"#111111","symbolStrokeColor":"#111111","symbolSize":70,"rowPadding":11,"labelOffset":0,"padding":0,"labelFont":"Liberation Serif","encode":{"labels":{"update":{"font":{"value":"Liberation Serif"}}}}}}}},
{"data":{"name":"rm"},"transform":[{"filter":{"field":"s","equal":"Stress 35 MPa"}}],"mark":{"type":"point","filled":true,"opacity":0.85,"color":"#F86A6A","size":45},
 "encoding":{"shape":{"field":"s","type":"nominal","scale":{"domain":["Stress 200 MPa","Stress 35 MPa"],"range":["circle","M-0.12,-1L0.12,-1L0.12,1L-0.12,1ZM-0.926,-0.396L-0.806,-0.604L0.926,0.396L0.806,0.604ZM0.806,-0.604L0.926,-0.396L-0.806,0.604L-0.926,0.396Z"]},
   "legend":{"orient":"none","legendX":313,"legendY":17,"title":null,"symbolFillColor":"#111111","symbolStrokeColor":"#111111","symbolSize":70,"rowPadding":11,"labelOffset":0,"padding":0,"labelFont":"Liberation Serif","encode":{"labels":{"update":{"font":{"value":"Liberation Serif"}}}}}}}}
],
"resolve":{"scale":{"color":"independent"}}
}
],
"config":{
"view":{"stroke":null},
"font":"Liberation Serif",
"axis":{"labelFont":"Liberation Serif","labelFontSize":22,"labelColor":"#333333","labelFlush":false,"titleFont":"Liberation Serif","titleFontSize":24,"titleFontWeight":"normal","titleColor":"#333333","domainColor":"#9a9a9a","domainWidth":1.5,"tickColor":"#9a9a9a","tickSize":-5,"tickWidth":1.2,"grid":false},
"legend":{"labelFont":"Liberation Serif","labelFontSize":23,"labelColor":"#222222"},
"title":{"font":"Liberation Serif","fontSize":24,"fontWeight":"normal","color":"#333333"}
}
}
